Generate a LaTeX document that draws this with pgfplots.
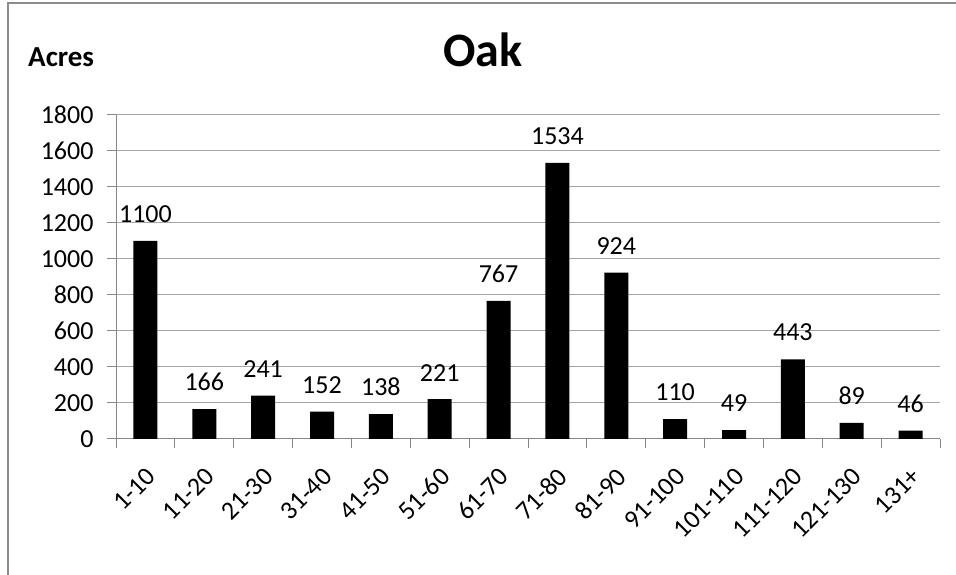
\documentclass[border=0pt]{standalone}
\usepackage{pgfplots}
\pgfplotsset{compat=1.18}
\usepackage{fontspec}
\setmainfont{Carlito}

\definecolor{axisgray}{HTML}{868686}
\definecolor{gridgray}{HTML}{A6A6A6}
\definecolor{framegray}{HTML}{8C8C8C}

\pgfplotstableread{
idx acres
0  1100
1  166
2  241
3  152
4  138
5  221
6  767
7  1534
8  924
9  110
10 49
11 443
12 89
13 46
}\oakdata

\begin{document}
\begin{tikzpicture}
\useasboundingbox (0pt,0pt) rectangle (956pt,575pt);
% page frame
\draw[framegray, line width=2pt] (8pt,0pt) -- (8pt,572pt) -- (956pt,572pt);
% heading and unit
\node[anchor=base, inner sep=0pt, font=\bfseries\fontsize{48}{56}\selectfont] at (483pt,508pt) {Oak};
\node[anchor=base west, inner sep=0pt, font=\bfseries\fontsize{29}{34}\selectfont] at (28pt,508pt) {Acres};
\begin{axis}[
  at={(116pt,136pt)}, anchor=south west,
  scale only axis, width=824pt, height=324pt,
  xmin=-0.5, xmax=13.5, ymin=0, ymax=1800,
  axis x line*=bottom, axis y line*=left,
  axis line style={axisgray, line width=1pt},
  ytick={0,200,...,1800},
  ymajorgrids, grid style={gridgray, line width=1pt},
  tick align=outside, major tick length=9pt,
  tick style={axisgray, line width=1pt},
  xtick={-0.5,0.5,...,13.5}, xticklabels={},
  extra x ticks={0,1,...,13},
  extra x tick labels={1-10,11-20,21-30,31-40,41-50,51-60,61-70,71-80,81-90,91-100,101-110,111-120,121-130,131+},
  extra x tick style={major tick length=0pt, tick style={draw=none},
    xticklabel style={xshift=8pt, yshift=-31pt, rotate=45, anchor=east}},
  tick label style={font=\fontsize{26}{30}\selectfont},
  yticklabel style={xshift=-10pt},
  /pgf/number format/assume math mode=true,
  /pgf/number format/1000 sep={},
  ybar, bar width=24pt,
  nodes near coords,
  every node near coord/.append style={font=\fontsize{26}{30}\selectfont, anchor=south, inner sep=0pt, yshift=18pt},
  clip=false,
]
\addplot[fill=black, draw=none] table[x=idx, y=acres] {\oakdata};
\end{axis}
\end{tikzpicture}
\end{document}
